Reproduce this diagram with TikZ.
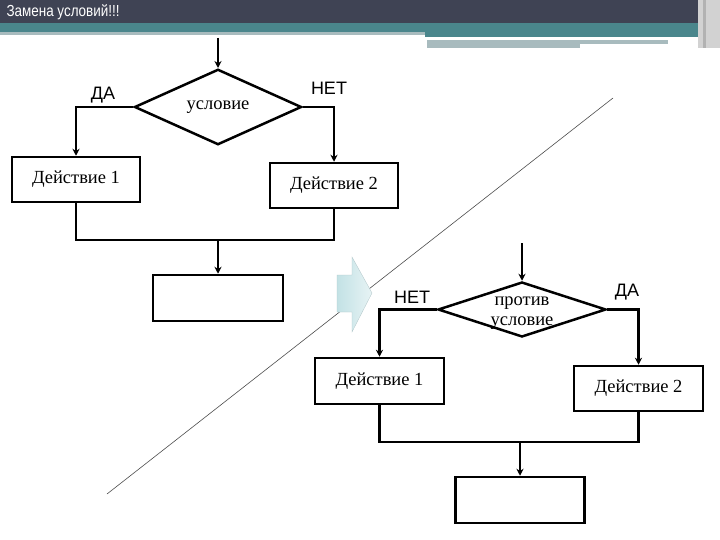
\documentclass[tikz,border=0pt]{standalone}
\usepackage{fontspec}
\setmainfont{Liberation Serif}
\newfontfamily\labelfont{Liberation Sans}
\newfontfamily\titlefont[FakeStretch=0.84]{Liberation Sans}
\usetikzlibrary{positioning, arrows.meta, shapes.geometric}

\definecolor{headdark}{HTML}{3F4354}
\definecolor{headteal}{HTML}{4A868C}
\definecolor{headgrey}{HTML}{A8BBBE}
\definecolor{arrowcyan}{HTML}{C3E2E5}

\begin{document}
\begin{tikzpicture}[
        x=1pt, y=-1pt,
        block/.style={rectangle, draw, line width=2.5pt, minimum width=128pt, minimum height=45pt, inner sep=0pt, align=center, font=\fontsize{18.5}{20}\selectfont},
        decision/.style={diamond, draw, line width=2.5pt, inner sep=0pt, align=center, font=\fontsize{18.5}{17}\selectfont},
        answer/.style={font=\labelfont\fontsize{18}{20}\selectfont},
        line/.style={line width=2.5pt},
        arrow/.style={line width=2.5pt, -{Stealth[length=7pt, width=7pt]}},
    ]
        \useasboundingbox (0,0) rectangle (720,540);

        % header
        \fill[headdark] (0,0) rectangle (720,23);
        \fill[headteal] (0,23) rectangle (700,33);
        \fill[headgrey] (0,32) rectangle (425,35);
        \fill[headteal] (425,32) rectangle (700,37);
        \fill[headgrey] (427,40) rectangle (668,44);
        \fill[headgrey] (427,44) rectangle (580,48);
        \fill[gray!35] (698,0) rectangle (720,48);
        \fill[gray!60] (703,0) rectangle (706,48);
        \node[anchor=west, text=white, font=\titlefont\fontsize{16}{17}\selectfont] (title) at (3,12) {Замена условий!!!};

        % diagonal divider
        \coordinate (cutA) at (107,494);
        \coordinate (cutB) at (613,98);
        \draw[gray!60!black, line width=0.6pt] (cutA) -- (cutB);

        % transition arrow
        \shade[left color=arrowcyan, right color=arrowcyan!40, draw=arrowcyan!70!gray, line width=0.3pt]
            (337,275) -- (352,275) -- (352,257) -- (372,293) -- (352,332) -- (352,312) -- (337,312) -- cycle;

        % original condition
        \coordinate (inA) at (218,38);
        \node[decision, minimum width=167pt, minimum height=57pt] (condA) at (218,107) {условие};
        \node[block] (doA1) at (76,179.5) {Действие 1};
        \node[block] (doA2) at (334,185.5) {Действие 2};
        \node[block, minimum width=130pt, minimum height=46pt] (endA) at (218,298) {};
        \coordinate (joinA) at (218,240);
        \node[answer] (yesA) at (103,95) {ДА};
        \node[answer] (noA) at (329,88) {НЕТ};

        \draw[arrow] (inA) -- (condA.north);
        \draw[arrow] (condA.west) -| (doA1.north);
        \draw[arrow] (condA.east) -| (doA2.north);
        \draw[line] (doA1.south) |- (joinA);
        \draw[line] (doA2.south) |- (joinA);
        \draw[arrow] (joinA) -- (endA.north);

        % inverted condition
        \coordinate (inB) at (522,243);
        \node[decision, minimum width=168pt, minimum height=55pt] (condB) at (522,309.5) {};
        \node[font=\fontsize{18.5}{20}\selectfont, align=center] (condBtext) at (522,313) {против\\условие};
        \node[block, minimum width=129pt, minimum height=46pt] (doB1) at (379.5,381) {Действие 1};
        \node[block, minimum width=129pt] (doB2) at (638.5,388.5) {Действие 2};
        \node[block, minimum width=129pt, minimum height=46pt] (endB) at (520,500) {};
        \coordinate (joinB) at (520,442);
        \node[answer] (noB) at (412,297) {НЕТ};
        \node[answer] (yesB) at (627,292) {ДА};

        \draw[arrow] (inB) -- (condB.north);
        \draw[arrow] (condB.west) -| (doB1.north);
        \draw[arrow] (condB.east) -| (doB2.north);
        \draw[line] (doB1.south) |- (joinB);
        \draw[line] (doB2.south) |- (joinB);
        \draw[arrow] (joinB) -- (endB.north);
    \end{tikzpicture}
\end{document}
